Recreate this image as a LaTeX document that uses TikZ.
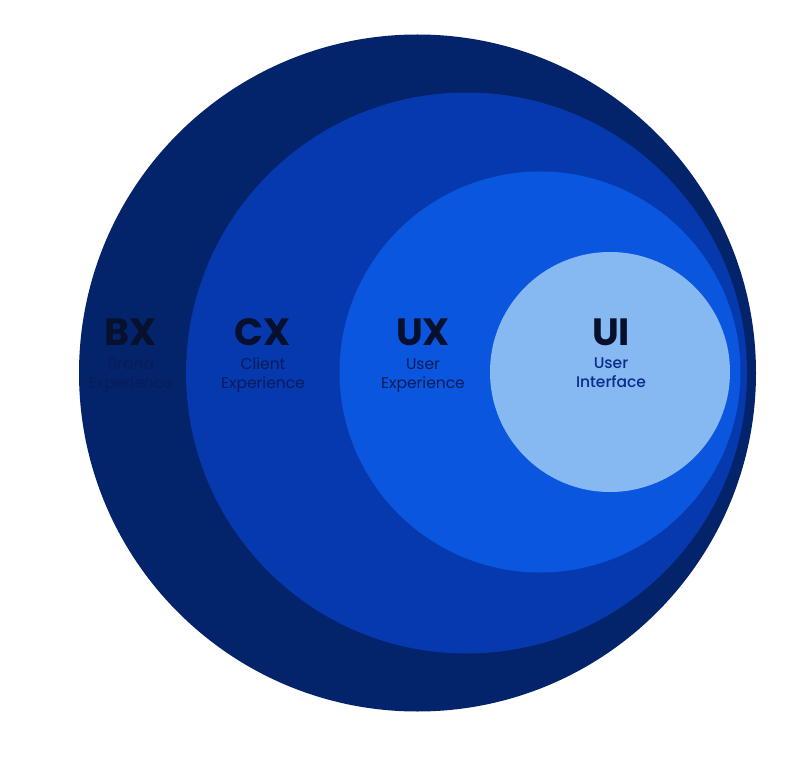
\documentclass[tikz,border=0pt]{standalone}
\usepackage{fontspec}
\setmainfont{Poppins}
\definecolor{bxcol}{HTML}{03236A}
\definecolor{cxcol}{HTML}{0638AE}
\definecolor{uxcol}{HTML}{0B56DF}
\definecolor{uicol}{HTML}{86B8F1}
\definecolor{headcol}{HTML}{07112E}
\definecolor{subcol}{HTML}{0A1C58}
\definecolor{uisub}{HTML}{0A2C8E}
\tikzset{
  ring/.style={circle, inner sep=0pt, minimum size=#1},
  head/.style={font=\fontsize{38}{38}\selectfont\bfseries, text=headcol, inner sep=0pt, anchor=base},
  sub/.style={font=\fontsize{15.5}{19}\selectfont, text=subcol, align=center, inner sep=0pt, anchor=north},
}
\begin{document}
\begin{tikzpicture}[x=1pt,y=-1pt]
\useasboundingbox (0,0) rectangle (796,757);
\fill[white] (0,0) rectangle (796,757);
\node[ring=677pt, fill=bxcol] (bx) at (417.5,373) {};
\node[ring=561pt, fill=cxcol] (cx) at (466.5,373) {};
\node[ring=401pt, fill=uxcol] (ux) at (540,372) {};
\node[ring=240pt, fill=uicol] (ui) at (610,372) {};
\node[head] (bxh) at (131,345) {BX};
\node[sub] (bxs) at (131,358) {Brand\\Experience};
\node[head] (cxh) at (263,345) {CX};
\node[sub] (cxs) at (263,358) {Client\\Experience};
\node[head] (uxh) at (423,345) {UX};
\node[sub] (uxs) at (423,358) {User\\Experience};
\node[head] (uih) at (611,345) {UI};
\node[sub, text=uisub, font=\fontsize{15.5}{19}\selectfont\fontspec{Poppins Medium}] (uis) at (611,358) {User\\Interface};
\end{tikzpicture}
\end{document}
